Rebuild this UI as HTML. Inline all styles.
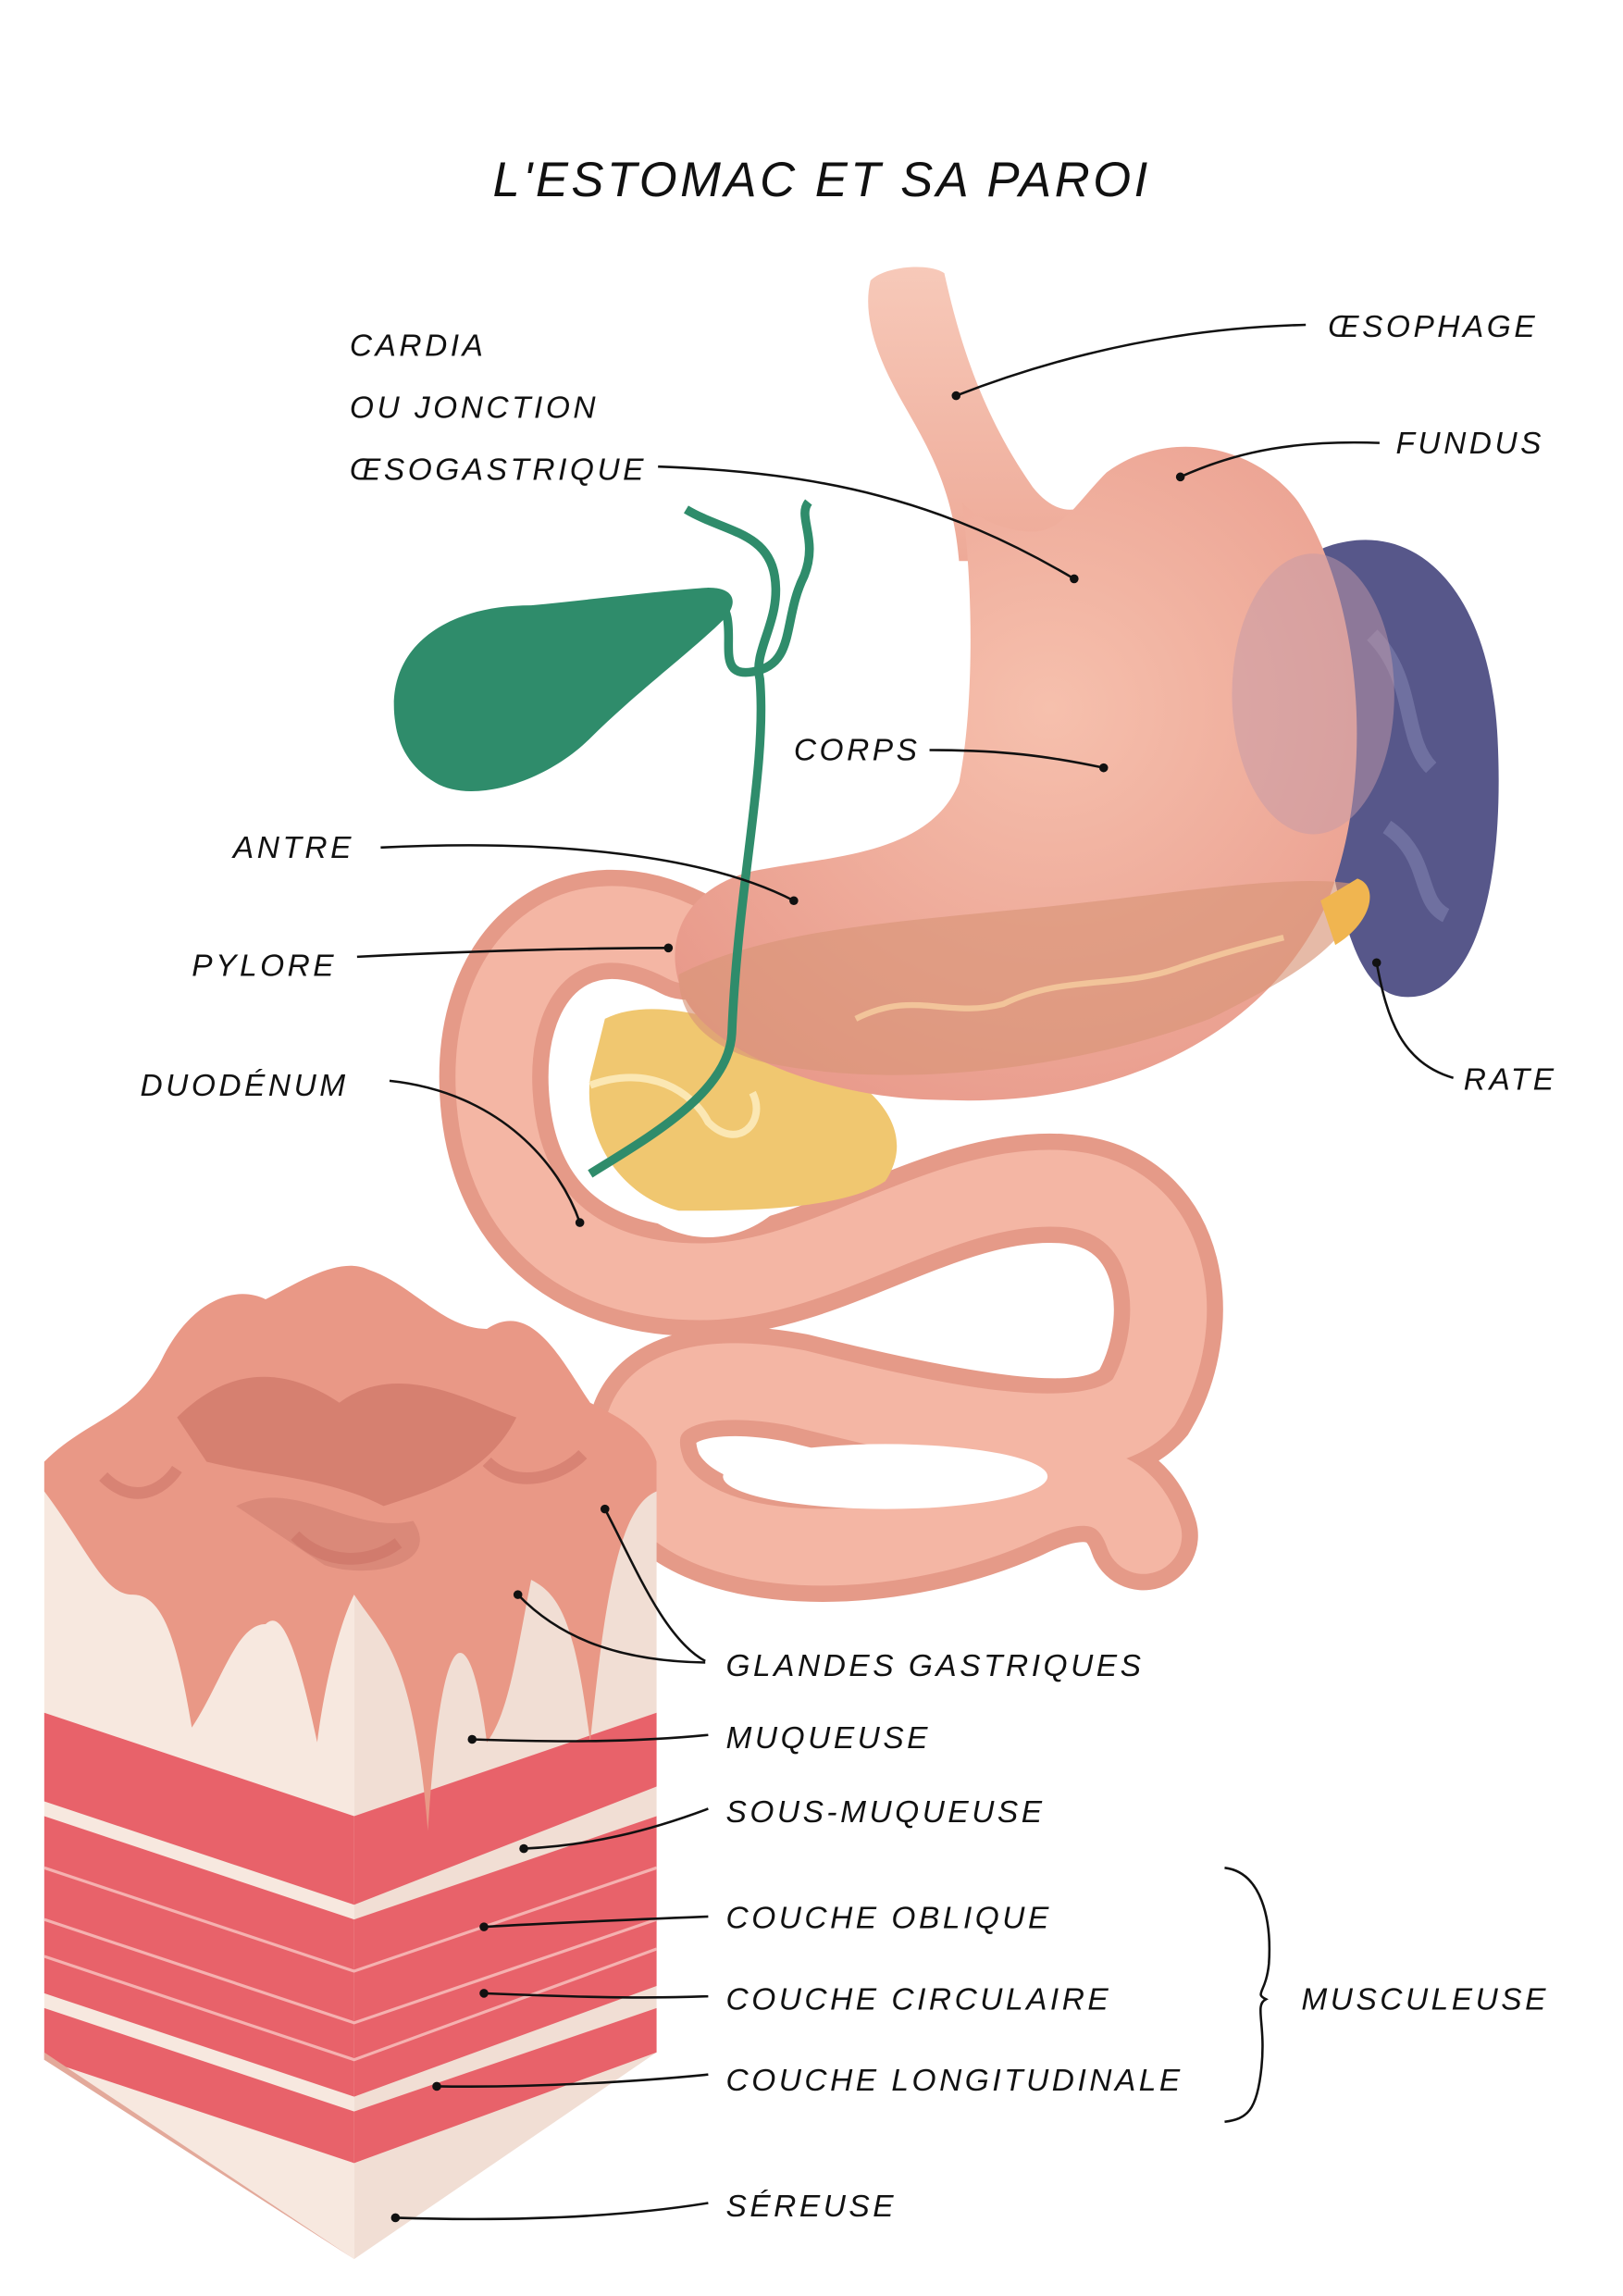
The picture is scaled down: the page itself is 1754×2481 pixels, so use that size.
<!DOCTYPE html>
<html><head><meta charset="utf-8"><style>
html,body{margin:0;padding:0;background:#fff}
svg{display:block}
text{font-family:"Liberation Sans",sans-serif;font-style:italic;letter-spacing:2.2px;fill:#111}
</style></head><body>
<svg width="1754" height="2481" viewBox="0 0 1100 1555" preserveAspectRatio="none" xmlns="http://www.w3.org/2000/svg">
<defs>
<radialGradient id="st" cx="0.55" cy="0.4" r="0.7"><stop offset="0" stop-color="#f6c0ad"/><stop offset="1" stop-color="#e8998a"/></radialGradient>
<linearGradient id="tube" x1="0" y1="0" x2="0" y2="1"><stop offset="0" stop-color="#f7c9b9"/><stop offset="1" stop-color="#eeaa98"/></linearGradient>
</defs>
<rect width="1100" height="1555" fill="#fff"/>
<text x="557" y="133" text-anchor="middle" font-size="33" letter-spacing="3">L'ESTOMAC ET SA PAROI</text>

<!-- intestine loops -->
<g fill="none" stroke-linecap="round">
<path d="M465,640 C390,600 330,650 335,740 C340,830 400,870 480,868 C560,866 640,800 720,805 C800,810 805,900 775,950 C740,990 620,960 540,940 C460,925 420,950 440,1000 C470,1060 600,1060 690,1020 C740,995 765,1010 775,1040" stroke="#e59a88" stroke-width="74"/>
<path d="M465,640 C390,600 330,650 335,740 C340,830 400,870 480,868 C560,866 640,800 720,805 C800,810 805,900 775,950 C740,990 620,960 540,940 C460,925 420,950 440,1000 C470,1060 600,1060 690,1020 C740,995 765,1010 775,1040" stroke="#f4b6a4" stroke-width="52"/>
</g>
<!-- loop holes -->
<ellipse cx="480" cy="760" rx="72" ry="78" fill="#fff"/>
<ellipse cx="600" cy="1000" rx="110" ry="22" fill="#fff"/>
<!-- pancreas head -->
<path d="M410,690 C450,670 520,700 560,720 C600,740 620,770 600,800 C570,820 500,820 460,820 C420,810 395,770 400,730 Z" fill="#f0c770"/>
<path d="M400,735 C440,720 470,740 480,760 C500,780 520,760 510,740" stroke="#fbe7b3" stroke-width="5" fill="none"/>

<!-- spleen -->
<path d="M900,370 C960,350 1010,400 1015,500 C1020,600 1000,680 950,675 C905,670 905,560 880,500 C860,430 870,380 900,370 Z" fill="#57578a"/>
<path d="M930,430 C960,460 950,500 970,520 M940,560 C970,580 960,610 980,620" stroke="#6f70a0" stroke-width="10" fill="none"/>

<!-- esophagus -->
<path d="M590,190 C600,180 630,178 640,185 C650,230 665,280 700,330 C720,355 740,345 745,330 L740,380 L650,380 C645,320 620,290 605,260 C592,235 585,210 590,190 Z" fill="url(#tube)"/>
<!-- stomach -->
<path d="M652,340 C660,400 660,480 650,530 C630,580 560,580 510,590 C470,600 450,630 460,665 C470,710 560,745 640,745 C760,750 860,700 900,610 C935,520 920,400 880,340 C850,300 790,290 750,320 C730,340 720,360 700,360 C680,360 660,350 652,340 Z" fill="url(#st)"/>
<ellipse cx="890" cy="470" rx="55" ry="95" fill="#c49aa8" opacity="0.5"/>
<!-- pancreas body (translucent) -->
<path d="M460,660 C520,630 600,625 700,615 C800,605 880,590 925,600 C915,640 880,660 820,690 C740,720 620,740 520,720 C480,710 460,690 460,660 Z" fill="#d99578" opacity="0.65"/>
<path d="M920,595 C935,600 930,625 905,640 L895,610 Z" fill="#f0b550"/>
<path d="M580,690 C620,670 640,690 680,680 C720,660 760,670 800,655 C830,645 850,640 870,635" stroke="#f2c49a" stroke-width="4" fill="none"/>

<!-- gallbladder -->
<path d="M268,490 C260,440 300,410 360,410 C410,405 450,400 480,398 C500,398 500,410 490,420 C470,440 430,470 400,500 C370,530 320,545 295,530 C278,520 270,505 268,490 Z" fill="#2f8c6b"/>
<path d="M485,405 C505,420 480,460 510,455 C540,450 530,420 545,390 C555,365 540,350 548,340" stroke="#2f8c6b" stroke-width="6" fill="none"/>
<path d="M465,345 C490,360 520,360 525,390 C530,420 510,440 515,460 C520,520 500,600 496,700 C494,740 440,770 400,795" stroke="#2f8c6b" stroke-width="6" fill="none"/>

<!-- wall block -->
<polygon points="30,990 240,1060 240,1530 30,1390" fill="#f7e8df"/>
<polygon points="240,1060 445,990 445,1390 240,1530" fill="#f1ded4"/>
<g fill="#e8626a">
<polygon points="30,1160 240,1230 240,1290 30,1220"/>
<polygon points="240,1230 445,1160 445,1210 240,1290"/>
<polygon points="30,1230 240,1300 240,1420 30,1350"/>
<polygon points="240,1300 445,1230 445,1345 240,1420"/>
<polygon points="30,1360 240,1430 240,1465 30,1395"/>
<polygon points="240,1430 445,1360 445,1390 240,1465"/>
</g>
<g stroke="#f7c6c2" stroke-width="2" fill="none" opacity="0.8">
<path d="M30,1265 L240,1335 L445,1265 M30,1300 L240,1370 L445,1300 M30,1325 L240,1395 L445,1320"/>
</g>
<polygon points="30,1390 240,1530 240,1530 30,1395" fill="#e3a99a"/>
<!-- mucosa top -->
<path d="M30,990 C60,960 90,960 110,920 C130,880 160,870 180,880 C200,870 230,850 250,860 C280,870 300,900 330,900 C360,880 380,920 400,950 C420,960 440,970 445,990 L445,1010 C420,1020 410,1080 400,1180 C390,1100 380,1080 360,1070 C350,1120 345,1160 330,1180 C320,1100 300,1080 290,1240 C280,1120 260,1110 240,1080 C230,1100 220,1140 215,1180 C200,1110 190,1090 180,1100 C160,1100 150,1140 130,1170 C120,1110 110,1080 90,1080 C70,1080 60,1050 30,1010 Z" fill="#e99886"/>
<path d="M120,960 C160,920 200,930 230,950 C270,920 320,950 350,960 C330,1000 290,1010 260,1020 C220,1000 180,1000 140,990 Z" fill="#c97062" opacity="0.6"/>
<path d="M160,1020 C200,1000 240,1040 280,1030 C300,1060 250,1070 220,1060" fill="#d07f72" opacity="0.6"/>
<path d="M200,1040 C220,1060 250,1060 270,1045 M330,990 C350,1010 380,1000 395,985 M70,1000 C90,1020 110,1010 120,995" stroke="#c76e62" stroke-width="8" fill="none" opacity="0.5"/>

<!-- connector lines -->
<g stroke="#111" stroke-width="1.6" fill="none">
<path d="M648,268 C720,240 800,222 885,220"/>
<path d="M800,323 C840,305 880,298 935,300"/>
<path d="M446,316 C560,320 640,340 728,392"/>
<path d="M630,508 C680,508 710,512 748,520"/>
<path d="M258,574 C380,568 480,580 538,610"/>
<path d="M242,648 C320,644 400,642 453,642"/>
<path d="M264,732 C340,740 380,790 393,828"/>
<path d="M933,652 C940,690 950,720 985,730"/>
<path d="M410,1022 C430,1060 450,1110 478,1125"/>
<path d="M351,1080 C380,1110 420,1125 478,1126"/>
<path d="M320,1178 C380,1180 430,1180 480,1175"/>
<path d="M355,1252 C400,1250 440,1240 480,1225"/>
<path d="M328,1305 C380,1302 430,1300 480,1298"/>
<path d="M328,1350 C380,1352 430,1354 480,1352"/>
<path d="M296,1413 C360,1414 430,1410 480,1405"/>
<path d="M268,1502 C360,1505 430,1500 480,1492"/>
<path d="M830,1265 C855,1268 862,1300 860,1330 C858,1350 850,1350 858,1354 C850,1358 858,1370 855,1400 C852,1430 845,1435 830,1437"/>
</g>
<g fill="#111">
<circle cx="648" cy="268" r="3"/><circle cx="800" cy="323" r="3"/><circle cx="728" cy="392" r="3"/>
<circle cx="748" cy="520" r="3"/><circle cx="538" cy="610" r="3"/><circle cx="453" cy="642" r="3"/>
<circle cx="393" cy="828" r="3"/><circle cx="933" cy="652" r="3"/><circle cx="410" cy="1022" r="3"/>
<circle cx="351" cy="1080" r="3"/><circle cx="320" cy="1178" r="3"/><circle cx="355" cy="1252" r="3"/>
<circle cx="328" cy="1305" r="3"/><circle cx="328" cy="1350" r="3"/><circle cx="296" cy="1413" r="3"/>
<circle cx="268" cy="1502" r="3"/>
</g>

<g font-size="21">
<text x="900" y="228">ŒSOPHAGE</text>
<text x="946" y="307">FUNDUS</text>
<text x="237" y="241">CARDIA</text>
<text x="237" y="283">OU JONCTION</text>
<text x="237" y="325">ŒSOGASTRIQUE</text>
<text x="538" y="515">CORPS</text>
<text x="158" y="581">ANTRE</text>
<text x="130" y="661">PYLORE</text>
<text x="95" y="742">DUODÉNUM</text>
<text x="992" y="738">RATE</text>
<text x="492" y="1135">GLANDES GASTRIQUES</text>
<text x="492" y="1184">MUQUEUSE</text>
<text x="492" y="1234">SOUS-MUQUEUSE</text>
<text x="492" y="1306">COUCHE OBLIQUE</text>
<text x="492" y="1361">COUCHE CIRCULAIRE</text>
<text x="492" y="1416">COUCHE LONGITUDINALE</text>
<text x="882" y="1361">MUSCULEUSE</text>
<text x="492" y="1501">SÉREUSE</text>
</g>
</svg>
</body></html>
